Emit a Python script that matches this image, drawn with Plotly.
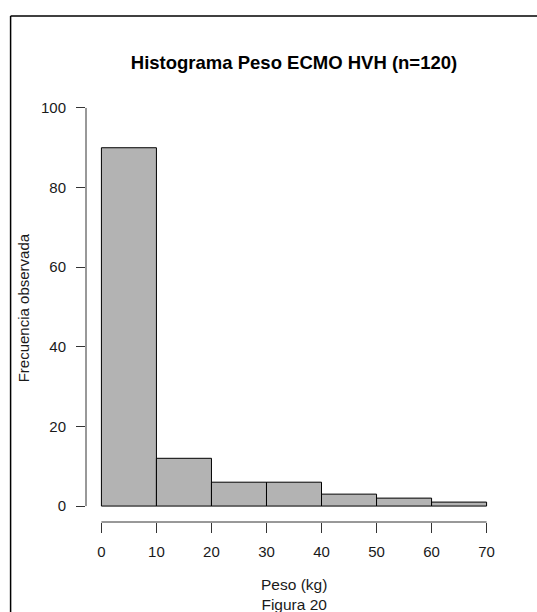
import plotly.graph_objects as go

# Data
bin_edges = [0, 10, 20, 30, 40, 50, 60, 70]
counts = [90, 12, 6, 6, 3, 2, 1]
x_ticks = [0, 10, 20, 30, 40, 50, 60, 70]
y_ticks = [0, 20, 40, 60, 80, 100]

title_text = "Histograma Peso ECMO HVH (n=120)"
x_label = "Peso (kg)<br>Figura 20"
y_label = "Frecuencia observada"

W, H = 537, 612
L, R, T, B = 86, 502.5, 91.5, 522  # plot region in px


def px_x(p):
    return (p - L) / (R - L)


def px_y(p):
    return (B - p) / (B - T)


centers = [(a + b) / 2 for a, b in zip(bin_edges[:-1], bin_edges[1:])]
widths = [b - a for a, b in zip(bin_edges[:-1], bin_edges[1:])]

font = "Liberation Sans, Arial, sans-serif"
ink = "#1a1a1a"

fig = go.Figure(
    go.Bar(
        x=centers,
        y=counts,
        width=widths,
        marker=dict(color="#b3b3b3", line=dict(color="black", width=1)),
        hoverinfo="x+y",
    )
)

fig.update_layout(
    width=W,
    height=H,
    margin=dict(l=L, r=W - R, t=T, b=H - B),
    paper_bgcolor="white",
    plot_bgcolor="white",
    showlegend=False,
    font=dict(family=font, size=15, color=ink),
    title=dict(
        text="<b>" + title_text + "</b>",
        x=0.5,
        xref="paper",
        xanchor="center",
        y=1 - 63 / H,
        yanchor="middle",
        font=dict(family=font, size=18.5, color="black"),
    ),
    xaxis=dict(
        range=[-2.8, 72.8],
        tickvals=x_ticks,
        ticktext=[str(v) for v in x_ticks],
        ticks="outside",
        ticklen=10,
        tickwidth=1,
        tickcolor="#333333",
        showgrid=False,
        zeroline=False,
        showline=False,
        ticklabelstandoff=6,
        tickfont=dict(size=15, color=ink),
    ),
    yaxis=dict(
        range=[-4, 104],
        tickvals=y_ticks,
        ticktext=[str(v) for v in y_ticks],
        ticks="outside",
        ticklen=9,
        tickwidth=1,
        tickcolor="#333333",
        showgrid=False,
        zeroline=False,
        showline=False,
        ticklabelstandoff=7,
        tickfont=dict(size=15, color=ink),
    ),
)

shapes = [
    # x axis line from first to last tick
    dict(type="line", xref="x", yref="paper", x0=x_ticks[0], x1=x_ticks[-1], y0=0, y1=0,
         line=dict(color="#333333", width=1)),
    # y axis line
    dict(type="line", xref="paper", yref="y", x0=0, x1=0, y0=y_ticks[0], y1=y_ticks[-1],
         line=dict(color="#333333", width=1)),
    # outer frame
    dict(type="line", xref="paper", yref="paper", x0=px_x(10.5), x1=px_x(545), y0=px_y(15.5), y1=px_y(15.5),
         line=dict(color="black", width=1.5)),
    dict(type="line", xref="paper", yref="paper", x0=px_x(10.5), x1=px_x(10.5), y0=px_y(15.5), y1=px_y(620),
         line=dict(color="black", width=1.5)),
]
fig.update_layout(shapes=shapes)

fig.add_annotation(
    text=x_label, xref="paper", yref="paper", x=0.5, y=px_y(574),
    xanchor="center", yanchor="top", showarrow=False,
    font=dict(family=font, size=15.5, color=ink),
)
fig.add_annotation(
    text=y_label, xref="paper", yref="paper", x=px_x(23), y=px_y(308),
    xanchor="center", yanchor="middle", textangle=-90, showarrow=False,
    font=dict(family=font, size=15, color=ink),
)

fig.write_html("out.html")
